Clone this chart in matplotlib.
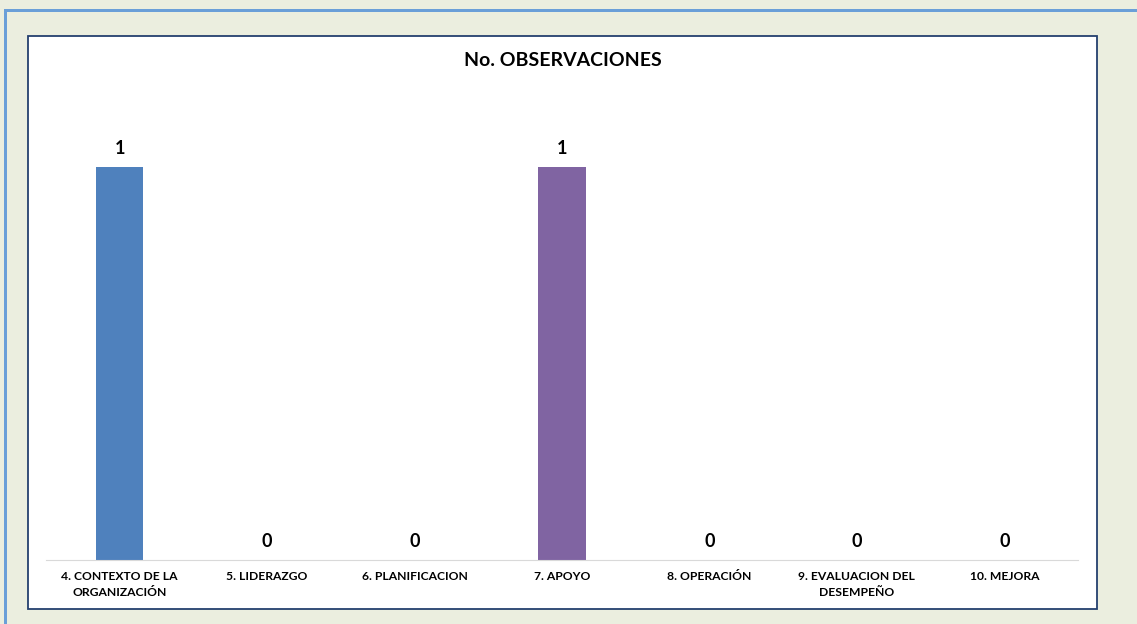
import matplotlib.pyplot as plt
from matplotlib.patches import Rectangle

categories = ['4. CONTEXTO DE LA\nORGANIZACIÓN', '5. LIDERAZGO', '6. PLANIFICACION',
              '7. APOYO', '8. OPERACIÓN', '9. EVALUACION DEL\nDESEMPEÑO', '10. MEJORA']
values = [1, 0, 0, 1, 0, 0, 0]
colors = ['#4F81BD', '#C0504D', '#9BBB59', '#8064A2', '#4BACC6', '#F79646', '#2C4D75']

plt.rcParams['font.family'] = ['Lato', 'DejaVu Sans']

W, H = 1137, 624
fig = plt.figure(figsize=(W / 100, H / 100), dpi=100)
fig.patch.set_facecolor('#EBEEDF')

# outer blue frame (top and left only)
fig.add_artist(Rectangle((4 / W, 0), 3 / W, 1 - 9 / H, transform=fig.transFigure,
                         facecolor='#6A9FD8', edgecolor='none', zorder=-2))
fig.add_artist(Rectangle((4 / W, 1 - 12 / H), 1, 3 / H, transform=fig.transFigure,
                         facecolor='#6A9FD8', edgecolor='none', zorder=-2))

# white chart panel
fig.add_artist(Rectangle((28 / W, 1 - 609 / H), (1097 - 28) / W, (609 - 36) / H,
                         transform=fig.transFigure, facecolor='white',
                         edgecolor='#24406E', linewidth=1.3, zorder=-1))

ax = fig.add_axes([46 / W, 1 - 560 / H, (1078 - 46) / W, (560 - 88) / H])
ax.set_facecolor('none')
ax.set_zorder(1)

x = range(len(categories))
bars = ax.bar(x, values, width=0.32, color=colors)
ax.set_xlim(-0.5, len(categories) - 0.5)
ax.set_ylim(0, 1.2)

for b, v in zip(bars, values):
    ax.text(b.get_x() + b.get_width() / 2, v + 0.025, str(v), ha='center', va='bottom',
            fontsize=13, fontweight='bold', color='#000000')

ax.set_xticks(list(x))
ax.set_xticklabels(categories, fontsize=8.7, fontweight='bold', linespacing=1.55)
ax.tick_params(axis='x', length=0, pad=8)
ax.set_yticks([])
for s in ['top', 'right', 'left']:
    ax.spines[s].set_visible(False)
ax.spines['bottom'].set_color('#D9D9D9')

fig.text((28 + 1097) / 2 / W, 1 - 60 / H, 'No. OBSERVACIONES', ha='center', va='center',
         fontsize=14, fontweight='bold')

fig.savefig('out.png', dpi=100, facecolor=fig.get_facecolor())
